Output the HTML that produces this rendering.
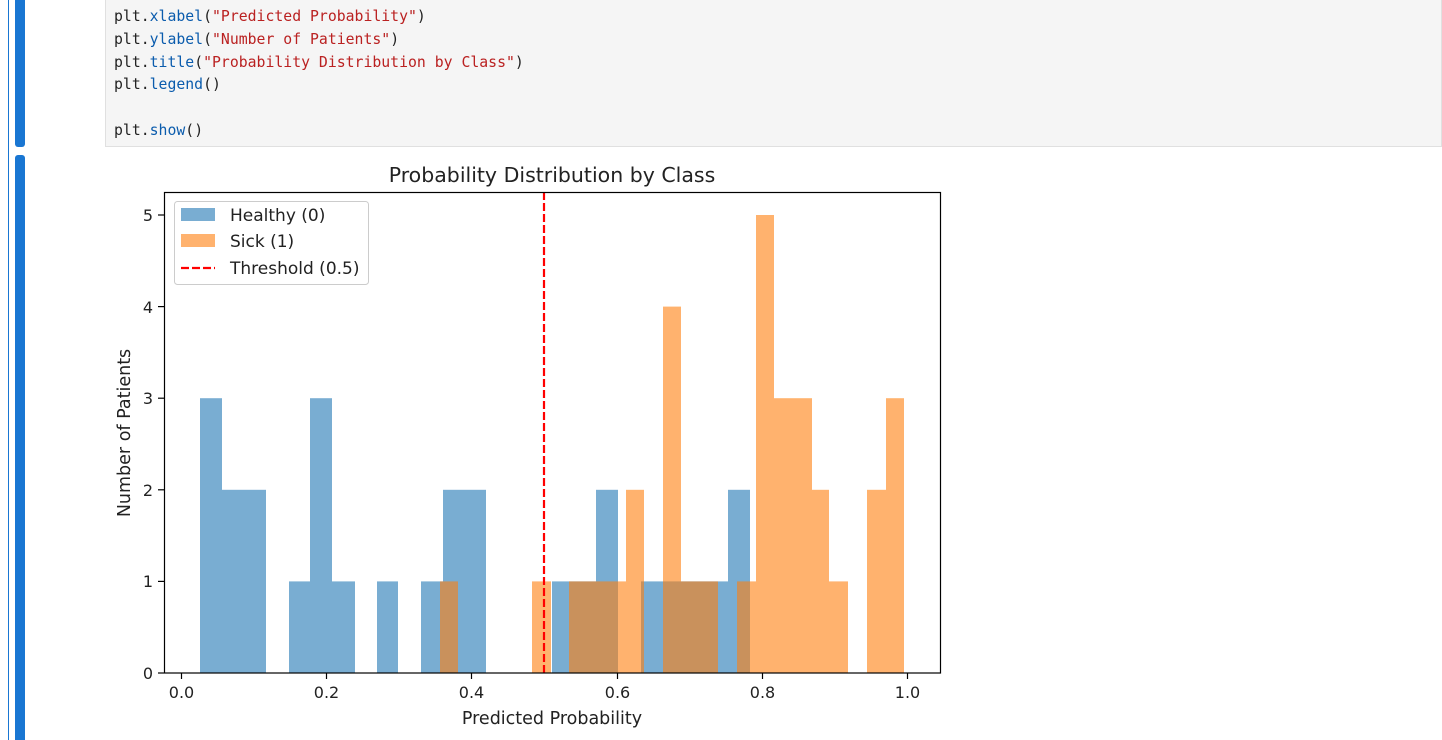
<!DOCTYPE html>
<html><head><meta charset="utf-8"><style>
body{margin:0;width:1442px;height:740px;background:#fff;position:relative;overflow:hidden;font-family:"DejaVu Sans","Liberation Sans",sans-serif;}
.code{position:absolute;left:105px;top:0;width:1337px;height:147px;background:#f5f5f5;border:1px solid #e0e0e0;border-top:none;box-sizing:border-box;}
.code pre{margin:0;position:absolute;left:8px;top:6px;font-family:"DejaVu Sans Mono","Liberation Mono",monospace;font-size:14.8px;line-height:22.8px;color:#222;}
.s{color:#ba2121}.f{color:#0b5cad}
</style></head><body>
<div style="position:absolute;left:8px;top:0;width:1px;height:740px;background:#1976d2"></div>
<div style="position:absolute;left:15px;top:0;width:10px;height:147px;background:#1976d2;border-radius:0 0 3px 3px"></div>
<div style="position:absolute;left:15px;top:155px;width:10px;height:585px;background:#1976d2;border-radius:3px 3px 0 0"></div>
<div class="code"><pre>plt.<span class="f">xlabel</span>(<span class="s">"Predicted Probability"</span>)
plt.<span class="f">ylabel</span>(<span class="s">"Number of Patients"</span>)
plt.<span class="f">title</span>(<span class="s">"Probability Distribution by Class"</span>)
plt.<span class="f">legend</span>()

plt.<span class="f">show</span>()</pre></div>
<svg width="1442" height="740" style="position:absolute;left:0;top:0" font-family="DejaVu Sans, Liberation Sans, sans-serif">
<g fill="#1f77b4" fill-opacity="0.6">
<rect x="200" y="398.2" width="22" height="274.8"/>
<rect x="222" y="489.8" width="44" height="183.2"/>
<rect x="289" y="581.4" width="21" height="91.6"/>
<rect x="310" y="398.2" width="22" height="274.8"/>
<rect x="332" y="581.4" width="23" height="91.6"/>
<rect x="377" y="581.4" width="21" height="91.6"/>
<rect x="421" y="581.4" width="22" height="91.6"/>
<rect x="443" y="489.8" width="43" height="183.2"/>
<rect x="552" y="581.4" width="44" height="91.6"/>
<rect x="596" y="489.8" width="22" height="183.2"/>
<rect x="641" y="581.4" width="87" height="91.6"/>
<rect x="728" y="489.8" width="22" height="183.2"/>
</g>
<g fill="#ff7f0e" fill-opacity="0.6">
<rect x="440" y="581.4" width="18" height="91.6"/>
<rect x="532" y="581.4" width="19" height="91.6"/>
<rect x="569" y="581.4" width="57" height="91.6"/>
<rect x="626" y="489.8" width="18" height="183.2"/>
<rect x="663" y="306.6" width="18" height="366.4"/>
<rect x="681" y="581.4" width="37" height="91.6"/>
<rect x="737" y="581.4" width="19" height="91.6"/>
<rect x="756" y="215" width="18" height="458"/>
<rect x="774" y="398.2" width="38" height="274.8"/>
<rect x="812" y="489.8" width="17" height="183.2"/>
<rect x="829" y="581.4" width="19" height="91.6"/>
<rect x="867" y="489.8" width="19" height="183.2"/>
<rect x="886" y="398.2" width="18" height="274.8"/>
</g>
<line x1="544" y1="192" x2="544" y2="673" stroke="#ff0000" stroke-width="2.2" stroke-dasharray="8,3"/>
<rect x="164.5" y="192.5" width="776" height="480.5" fill="none" stroke="#000" stroke-width="1.2"/>
<g stroke="#000" stroke-width="1.2">
<line x1="181.5" y1="673" x2="181.5" y2="679"/><line x1="326.5" y1="673" x2="326.5" y2="679"/><line x1="471.5" y1="673" x2="471.5" y2="679"/><line x1="617.5" y1="673" x2="617.5" y2="679"/><line x1="762.5" y1="673" x2="762.5" y2="679"/><line x1="907.5" y1="673" x2="907.5" y2="679"/>
<line x1="158" y1="673" x2="164" y2="673"/><line x1="158" y1="581.4" x2="164" y2="581.4"/><line x1="158" y1="489.8" x2="164" y2="489.8"/><line x1="158" y1="398.2" x2="164" y2="398.2"/><line x1="158" y1="306.6" x2="164" y2="306.6"/><line x1="158" y1="215" x2="164" y2="215"/>
</g>
<g font-size="16" fill="#222" text-anchor="middle">
<text x="181.5" y="698">0.0</text><text x="326.5" y="698">0.2</text><text x="471.5" y="698">0.4</text><text x="617.5" y="698">0.6</text><text x="762.5" y="698">0.8</text><text x="907.5" y="698">1.0</text>
</g>
<g font-size="16" fill="#222" text-anchor="end">
<text x="153" y="679">0</text><text x="153" y="587">1</text><text x="153" y="496">2</text><text x="153" y="404">3</text><text x="153" y="313">4</text><text x="153" y="221">5</text>
</g>
<text x="552" y="724" font-size="17.5" fill="#222" text-anchor="middle">Predicted Probability</text>
<text x="0" y="0" font-size="17.5" fill="#222" text-anchor="middle" transform="translate(130,433) rotate(-90)">Number of Patients</text>
<text x="552" y="182" font-size="20.5" fill="#222" text-anchor="middle">Probability Distribution by Class</text>
<rect x="174.5" y="201.5" width="194" height="83" rx="3" fill="#fff" fill-opacity="0.8" stroke="#ccc"/>
<rect x="181" y="208" width="34" height="13" fill="#1f77b4" fill-opacity="0.6"/>
<rect x="181" y="234" width="34" height="13" fill="#ff7f0e" fill-opacity="0.6"/>
<line x1="181" y1="268" x2="215" y2="268" stroke="#ff0000" stroke-width="2.2" stroke-dasharray="8,3"/>
<g font-size="17" fill="#222">
<text x="230" y="221">Healthy (0)</text><text x="230" y="247">Sick (1)</text><text x="230" y="274">Threshold (0.5)</text>
</g>
</svg>
</body></html>
